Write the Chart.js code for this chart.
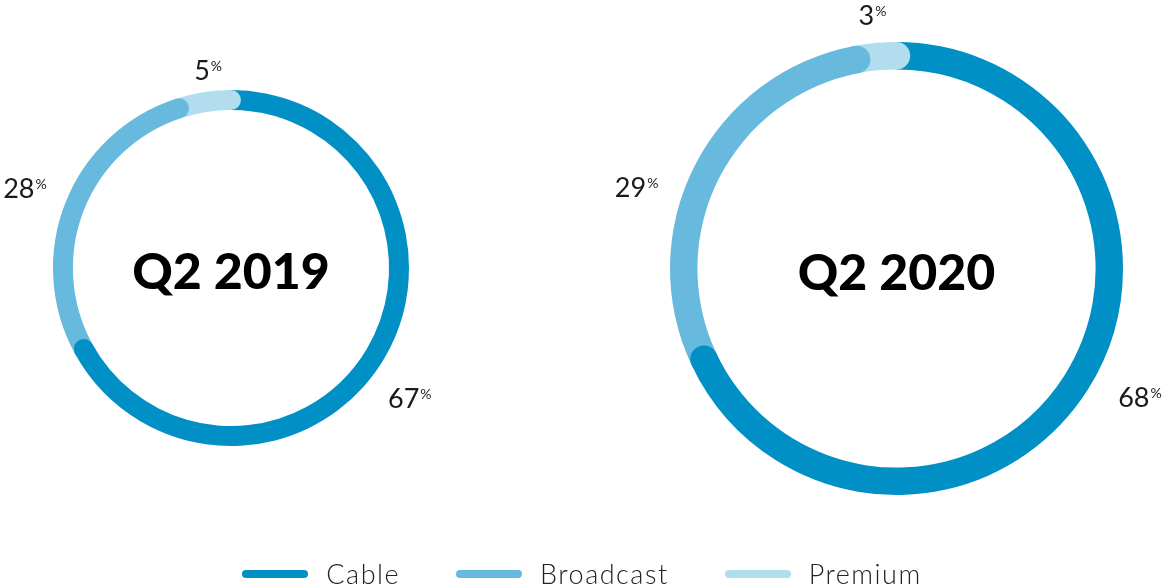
<!DOCTYPE html>
<html>
<head>
<meta charset="utf-8">
<script src="https://cdn.jsdelivr.net/npm/chart.js@4.4.0/dist/chart.umd.min.js"></script>
<style>
  html, body { margin: 0; padding: 0; background: #fff; }
  #wrap { position: relative; width: 1164px; height: 588px; overflow: hidden; }
  #wrap canvas { position: absolute; left: 0; top: 0; }
  #legend { position: absolute; left: 0; top: 557px; width: 1164px; display: flex; justify-content: center; align-items: center;
            font-family: Lato, "Open Sans", sans-serif; font-weight: 300; font-size: 27px; letter-spacing: 1.5px; color: #222; }
  #legend .item { display: flex; align-items: center; margin: 0 28px; }
  #legend .mark { width: 66px; height: 8px; border-radius: 4px; margin-right: 18px; }
</style>
</head>
<body>
<div id="wrap">
  <canvas id="c2019" width="1164" height="588"></canvas>
  <canvas id="c2020" width="1164" height="588"></canvas>
  <div id="legend"></div>
</div>
<script>
var categories = ['Cable', 'Broadcast', 'Premium'];
var values2019 = [67, 28, 5];
var values2020 = [68, 29, 3];
var titles = ['Q2 2019', 'Q2 2020'];
var colors = ['#0090c6', '#67b9de', '#b1ddee'];

var fontFamily = 'Lato, "Open Sans", sans-serif';

// rounded end on each segment, drawn over the start of the next one
var roundCaps = {
    id: 'roundCaps',
    afterDatasetsDraw: function(chart) {
        var ctx = chart.ctx;
        var meta = chart.getDatasetMeta(0);
        meta.data.forEach(function(arc, i) {
            var p = arc.getProps(['x', 'y', 'endAngle', 'innerRadius', 'outerRadius'], true);
            var r = (p.innerRadius + p.outerRadius) / 2;
            var w = (p.outerRadius - p.innerRadius) / 2;
            ctx.save();
            ctx.fillStyle = chart.data.datasets[0].backgroundColor[i];
            ctx.beginPath();
            ctx.arc(p.x + r * Math.cos(p.endAngle), p.y + r * Math.sin(p.endAngle), w, 0, Math.PI * 2);
            ctx.fill();
            ctx.restore();
        });
    }
};

// percent labels outside the ring and the title in the middle
var ringText = {
    id: 'ringText',
    afterDraw: function(chart, args, opts) {
        var ctx = chart.ctx;
        var meta = chart.getDatasetMeta(0);
        var values = chart.data.datasets[0].data;
        meta.data.forEach(function(arc, i) {
            var p = arc.getProps(['x', 'y', 'startAngle', 'endAngle', 'outerRadius'], true);
            var a = (p.startAngle + p.endAngle) / 2 + opts.shift[i] * Math.PI / 180;
            var r = p.outerRadius + opts.gaps[i];
            var cx = p.x + r * Math.cos(a);
            var cy = p.y + r * Math.sin(a);
            ctx.save();
            ctx.fillStyle = '#1a1a1a';
            ctx.textBaseline = 'alphabetic';
            ctx.textAlign = 'left';
            ctx.font = '400 27px ' + fontFamily;
            var num = String(values[i]);
            var wn = ctx.measureText(num).width;
            ctx.font = '400 14px ' + fontFamily;
            var wp = ctx.measureText('%').width;
            var x0 = cx - (wn + wp + 1) / 2;
            var base = cy + 10;
            ctx.font = '400 27px ' + fontFamily;
            ctx.fillText(num, x0, base);
            ctx.font = '400 14px ' + fontFamily;
            ctx.fillText('%', x0 + wn + 1, base - 9);
            ctx.restore();
        });
        var c = meta.data[0];
        ctx.save();
        ctx.fillStyle = '#000';
        ctx.textAlign = 'center';
        ctx.textBaseline = 'middle';
        ctx.font = '900 50px ' + fontFamily;
        ctx.fillText(opts.title, c.x, c.y + 5);
        ctx.restore();
    }
};

function makeRing(id, values, title, padding, cutout, gaps, shift) {
    return new Chart(document.getElementById(id), {
        type: 'doughnut',
        data: {
            labels: categories,
            datasets: [{ data: values, backgroundColor: colors, borderWidth: 0, hoverOffset: 0 }]
        },
        options: {
            responsive: false,
            animation: false,
            cutout: cutout,
            layout: { padding: padding },
            plugins: {
                legend: { display: false },
                tooltip: { enabled: false },
                ringText: { title: title, gaps: gaps, shift: shift }
            }
        },
        plugins: [roundCaps, ringText]
    });
}

makeRing('c2019', values2019, titles[0], { left: 53, right: 755, top: 90, bottom: 142 }, '88.8%', [43, 43, 21], [5.4, -0.4, 2.4]);
makeRing('c2020', values2020, titles[1], { left: 670, right: 41, top: 42, bottom: 93 }, '87.9%', [49, 46, 28], [-4.5, -9.5, 0]);

var legend = document.getElementById('legend');
categories.forEach(function(name, i) {
    var item = document.createElement('div');
    item.className = 'item';
    var mark = document.createElement('span');
    mark.className = 'mark';
    mark.style.background = colors[i];
    var text = document.createElement('span');
    text.textContent = name;
    item.appendChild(mark);
    item.appendChild(text);
    legend.appendChild(item);
});
</script>
</body>
</html>
